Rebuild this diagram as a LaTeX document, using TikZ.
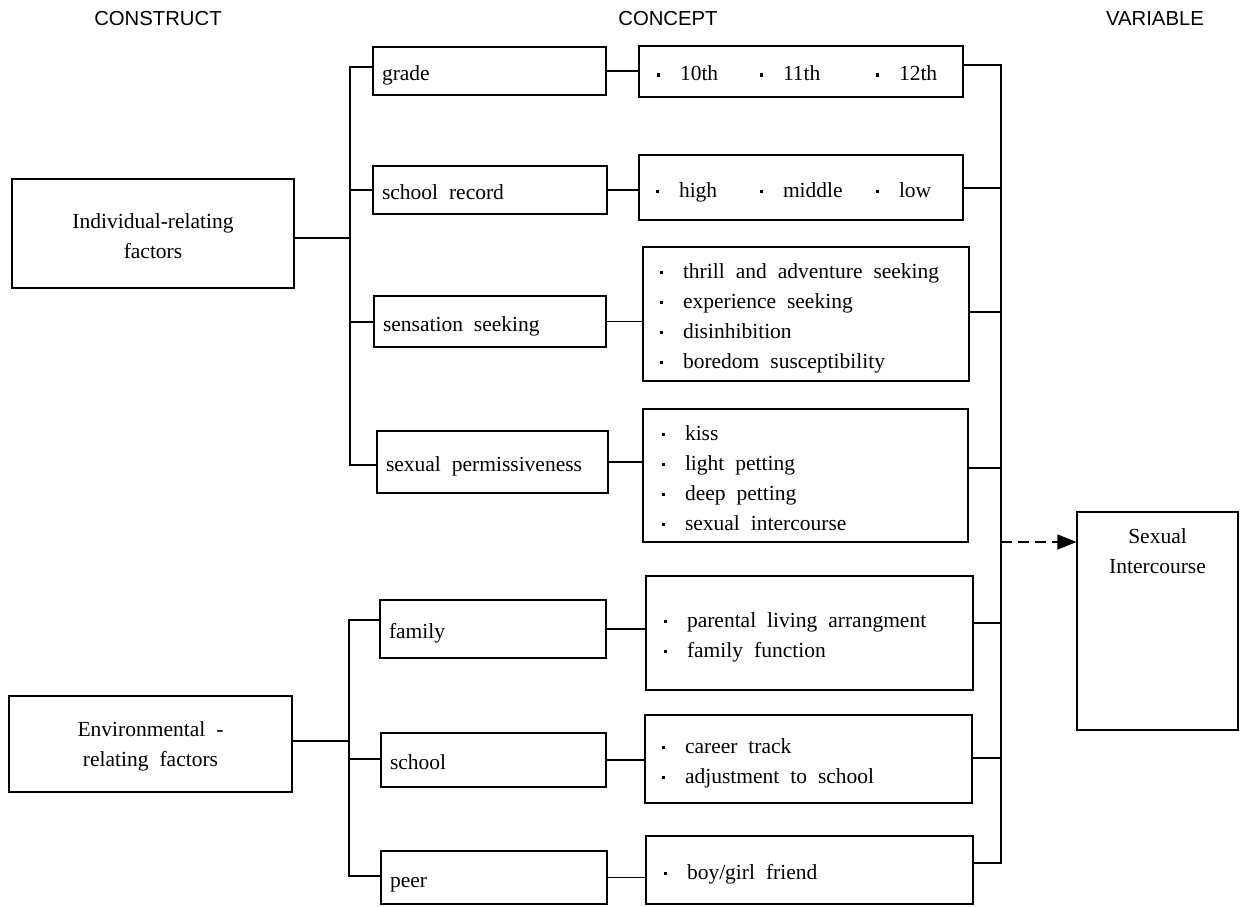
\documentclass[tikz,border=0pt]{standalone}
\usepackage{fontspec}
\setmainfont{Liberation Serif}
\setsansfont{Liberation Sans}
\usetikzlibrary{arrows.meta}
\newcommand\txtfont{\fontsize{21.5pt}{30pt}\selectfont\spaceskip=0.51em plus 0.05em minus 0.05em\relax}
\newcommand\hdfont{\sffamily\fontsize{20.3pt}{24pt}\selectfont}
\newcommand\bl{\makebox[23.5pt][l]{\raisebox{4.3pt}{\rule{3.2pt}{3.2pt}}}}
\begin{document}
\begin{tikzpicture}[x=1pt,y=-1pt,
  every node/.style={font=\txtfont, inner sep=0pt,
    execute at begin node={\spaceskip=0.51em plus 0.05em minus 0.05em\relax\rule{0pt}{28pt}},
    execute at end node={\rule[-9pt]{0pt}{0pt}}},
  box/.style={draw, line width=1.1pt},
  cb/.style={box, align=left, inner xsep=9pt, inner ysep=0pt},
  vb/.style={box, align=left, inner ysep=0pt},
  ln/.style={line width=1.1pt},
  plain/.style={execute at begin node={}, execute at end node={}},
  hd/.style={plain, font=\hdfont}]
\useasboundingbox (0,0) rectangle (1240,907);

% headers
\node[hd] (h1) at (158,16) {CONSTRUCT};
\node[hd] (h2) at (668,16) {CONCEPT};
\node[hd] (h3) at (1155,16) {VARIABLE};

% constructs
\node[box, plain, minimum width=282pt, minimum height=109pt, align=center] (ind) at (153,233.5) {\rule{0pt}{28pt}Individual-relating\\factors};
\node[box, plain, minimum width=283pt, minimum height=96pt, align=center] (env) at (150.5,744) {\rule{0pt}{24pt}Environmental -\\relating factors};

% concepts
\node[cb, minimum width=233pt, minimum height=48pt, text width=215pt] (grade) at (489.5,71) {grade};
\node[cb, minimum width=234pt, minimum height=48pt, text width=216pt] (rec) at (490,190) {school record};
\node[cb, minimum width=232pt, minimum height=51pt, text width=214pt] (sens) at (490,321.5) {sensation seeking};
\node[cb, minimum width=231pt, minimum height=62pt, text width=213pt] (perm) at (492.5,462) {sexual permissiveness};
\node[cb, minimum width=226pt, minimum height=58pt, text width=208pt] (fam) at (493,629) {family};
\node[cb, minimum width=225pt, minimum height=54pt, text width=207pt] (sch) at (493.5,760) {school};
\node[cb, minimum width=226pt, minimum height=53pt, text width=208pt] (peer) at (494,877.5) {peer};

% variables
\node[vb, minimum width=324pt, minimum height=51pt, inner xsep=17.5pt, text width=289pt] (gradev) at (801,71.5)
  {\makebox[103pt][l]{\bl 10th}\makebox[116pt][l]{\bl 11th}\bl 12th};
\node[vb, minimum width=324pt, minimum height=65pt, inner xsep=16.5pt, text width=291pt] (recv) at (801,187.5)
  {\makebox[104pt][l]{\bl high}\makebox[116pt][l]{\bl middle}\bl low};
\node[vb, minimum width=326pt, minimum height=134pt, inner xsep=16.5pt, text width=293pt] (sensv) at (806,314)
  {\bl thrill and adventure seeking\\\bl experience seeking\\\bl disinhibition\\\bl boredom susceptibility};
\node[vb, minimum width=325pt, minimum height=133pt, inner xsep=18.5pt, text width=288pt] (permv) at (805.5,475.5)
  {\bl kiss\\\bl light petting\\\bl deep petting\\\bl sexual intercourse};
\node[vb, minimum width=327pt, minimum height=114pt, inner xsep=17.5pt, text width=292pt] (famv) at (809.5,633)
  {\bl parental living arrangment\\\bl family function};
\node[vb, minimum width=327pt, minimum height=88pt, inner xsep=16.5pt, text width=294pt] (schv) at (808.5,759)
  {\bl career track\\\bl adjustment to school};
\node[vb, minimum width=327pt, minimum height=68pt, inner xsep=17.5pt, text width=292pt] (peerv) at (809.5,870)
  {\bl boy/girl friend};

% outcome
\node[box, minimum width=161pt, minimum height=218pt] (si) at (1157.5,621) {};
\node[plain, align=center, anchor=north] (sit) at (1157.5,528) {Sexual\\Intercourse};

% left bracket 1
\coordinate (li) at (350,238);
\coordinate (l1) at (350,67);
\coordinate (l2) at (350,190);
\coordinate (l3) at (350,322);
\coordinate (l4) at (350,465);
\draw[ln] (ind.east |- li) -- (li);
\draw[ln] (grade.west |- l1) -- (l1) -- (l4) -- (perm.west |- l4);
\draw[ln] (l2) -- (rec.west |- l2);
\draw[ln] (l3) -- (sens.west |- l3);

% left bracket 2
\coordinate (me) at (349,741);
\coordinate (m1) at (349,620);
\coordinate (m2) at (349,759);
\coordinate (m3) at (349,876);
\draw[ln] (env.east |- me) -- (me);
\draw[ln] (fam.west |- m1) -- (m1) -- (m3) -- (peer.west |- m3);
\draw[ln] (m2) -- (sch.west |- m2);

% concept to variable
\draw[ln] (grade.east) -- (grade.east -| gradev.west);
\draw[ln] (rec.east) -- (rec.east -| recv.west);
\draw[ln] (sens.east) -- (sens.east -| sensv.west);
\draw[ln] (perm.east) -- (perm.east -| permv.west);
\draw[ln] (fam.east) -- (fam.east -| famv.west);
\draw[ln] (sch.east) -- (sch.east -| schv.west);
\draw[ln] (peer.east) -- (peer.east -| peerv.west);

% right bracket
\coordinate (r1) at (1001,65);
\coordinate (r2) at (1001,188);
\coordinate (r3) at (1001,312);
\coordinate (r4) at (1001,468);
\coordinate (r5) at (1001,623);
\coordinate (r6) at (1001,758);
\coordinate (r7) at (1001,863);
\coordinate (ra) at (1001,542);
\draw[ln] (gradev.east |- r1) -- (r1) -- (r7) -- (peerv.east |- r7);
\draw[ln] (recv.east |- r2) -- (r2);
\draw[ln] (sensv.east |- r3) -- (r3);
\draw[ln] (permv.east |- r4) -- (r4);
\draw[ln] (famv.east |- r5) -- (r5);
\draw[ln] (schv.east |- r6) -- (r6);

% dashed arrow
\draw[ln, dash pattern=on 11pt off 6pt, -{Triangle[length=19pt,width=15pt]}] (ra) -- (ra -| si.west);
\end{tikzpicture}
\end{document}
